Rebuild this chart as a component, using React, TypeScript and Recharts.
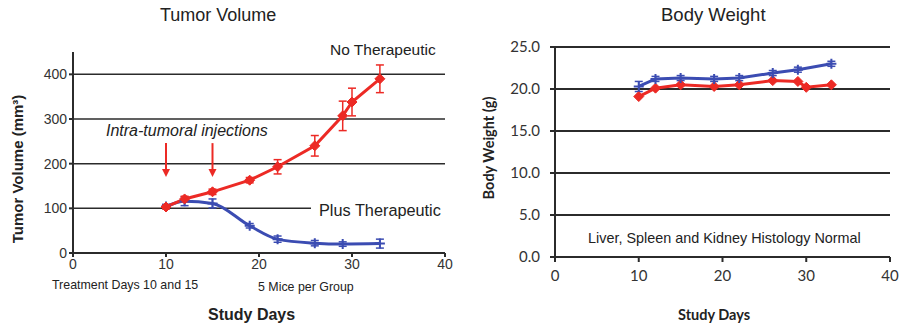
import React from "react";
import {
  LineChart,
  Line,
  XAxis,
  YAxis,
  CartesianGrid,
  ErrorBar,
  ReferenceLine,
} from "recharts";

const RED = "#ec2a25";
const BLUE = "#3b4cb2";
const AXIS = "#2b2b2b";

// Tumor volume (mm³)
const noTxDays = [10, 12, 15, 19, 22, 26, 29, 30, 33];
const noTxVolume = [103, 121, 137, 163, 193, 240, 307, 338, 390];
const noTxVolumeErr = [4, 6, 6, 6, 16, 23, 33, 31, 31];

const plusTxDays = [10, 12, 15, 19, 22, 26, 29, 33];
const plusTxVolume = [104, 116, 111, 61, 31, 22, 20, 21];
const plusTxVolumeErr = [5, 10, 10, 5, 7, 6, 5, 10];

// Body weight (g)
const noTxWeight = [19.1, 20.1, 20.5, 20.3, 20.5, 21.0, 20.9, 20.2, 20.5];
const plusTxWeight = [20.3, 21.2, 21.3, 21.2, 21.3, 21.9, 22.3, 23.0];
const plusTxWeightErr = [0.6, 0.3, 0.3, 0.3, 0.3, 0.3, 0.3, 0.3];

const injectionDays = [10, 15];
const dayTicks = [0, 10, 20, 30, 40];
const volumeTicks = [0, 100, 200, 300, 400];
const weightTicks = [0, 5, 10, 15, 20, 25];

const zip = (days: number[], vals: number[], errs?: number[]) =>
  days.map((d, i) => ({ day: d, v: vals[i], e: errs ? errs[i] : 0 }));

const tumorNo = zip(noTxDays, noTxVolume, noTxVolumeErr);
const tumorPlus = zip(plusTxDays, plusTxVolume, plusTxVolumeErr);
const weightNo = zip(noTxDays, noTxWeight);
const weightPlus = zip(plusTxDays, plusTxWeight, plusTxWeightErr);

const diamondDot = (props: any) => {
  const { cx, cy, index } = props;
  const r = 5;
  return (
    <path
      key={`dm${index}`}
      d={`M${cx},${cy - r}L${cx + r},${cy}L${cx},${cy + r}L${cx - r},${cy}Z`}
      fill={RED}
      stroke={RED}
    />
  );
};

const plusDot = (props: any) => {
  const { cx, cy, index } = props;
  const r = 5;
  return (
    <path
      key={`pl${index}`}
      d={`M${cx - r},${cy}H${cx + r}M${cx},${cy - r}V${cy + r}`}
      stroke={BLUE}
      strokeWidth={2}
    />
  );
};

const Arrow = (props: any) => {
  const { x1, y1, x2, y2 } = props;
  return (
    <g>
      <line x1={x1} y1={y1} x2={x2} y2={y2 - 5} stroke={RED} strokeWidth={2} />
      <path d={`M${x2 - 4},${y2 - 8}L${x2 + 4},${y2 - 8}L${x2},${y2}Z`} fill={RED} />
    </g>
  );
};

const txt = (style: React.CSSProperties): React.CSSProperties => ({
  position: "absolute",
  whiteSpace: "nowrap",
  color: "#222",
  lineHeight: 1,
  ...style,
});

export default function App() {
  const armTick = { fontFamily: "Arial, 'Liberation Sans', sans-serif", fontSize: 14, fill: "#333" };
  const latoTick = { fontFamily: "Lato, sans-serif", fontSize: 15, fill: "#333" };

  return (
    <div
      style={{
        position: "absolute",
        left: 0,
        top: 0,
        width: 900,
        height: 329,
        background: "#fff",
        fontFamily: "Arial, 'Liberation Sans', sans-serif",
        overflow: "hidden",
      }}
    >
      <div style={{ position: "absolute", left: 0, top: 0 }}>
        <LineChart
          width={460}
          height={329}
          margin={{ top: 52, right: 15, bottom: 46, left: 33 }}
        >
          <CartesianGrid
            vertical={false}
            horizontalValues={volumeTicks}
            stroke={AXIS}
            strokeWidth={1.5}
          />
          <XAxis
            type="number"
            dataKey="day"
            domain={[0, 40]}
            ticks={dayTicks}
            height={30}
            tick={armTick}
            tickSize={4}
            tickMargin={2}
            axisLine={{ stroke: AXIS, strokeWidth: 2 }}
            tickLine={{ stroke: AXIS, strokeWidth: 2 }}
            allowDataOverflow
          />
          <YAxis
            type="number"
            domain={[0, 450]}
            ticks={volumeTicks}
            width={40}
            tick={armTick}
            tickSize={4}
            tickMargin={2}
            axisLine={{ stroke: AXIS, strokeWidth: 2 }}
            tickLine={{ stroke: AXIS, strokeWidth: 2 }}
            allowDataOverflow
          />
          {injectionDays.map((d) => (
            <ReferenceLine
              key={`inj${d}`}
              segment={[
                { x: d, y: 246 },
                { x: d, y: 170 },
              ]}
              shape={(p: any) => <Arrow {...p} />}
            />
          ))}
          <Line
            data={tumorPlus}
            dataKey="v"
            type="monotone"
            stroke={BLUE}
            strokeWidth={3}
            dot={plusDot}
            isAnimationActive={false}
          >
            <ErrorBar dataKey="e" width={4} stroke={BLUE} strokeWidth={1.5} direction="y" />
          </Line>
          <Line
            data={tumorNo}
            dataKey="v"
            type="linear"
            stroke={RED}
            strokeWidth={3}
            dot={diamondDot}
            isAnimationActive={false}
          >
            <ErrorBar dataKey="e" width={4} stroke={RED} strokeWidth={1.5} direction="y" />
          </Line>
        </LineChart>
      </div>

      <div style={{ position: "absolute", left: 460, top: 0 }}>
        <LineChart
          width={440}
          height={329}
          margin={{ top: 47, right: 10, bottom: 42, left: 45 }}
        >
          <CartesianGrid
            vertical={false}
            horizontalValues={weightTicks}
            stroke={AXIS}
            strokeWidth={2}
          />
          <XAxis
            type="number"
            dataKey="day"
            domain={[0, 40]}
            ticks={dayTicks}
            height={30}
            tick={latoTick}
            tickSize={5}
            tickMargin={8}
            axisLine={{ stroke: AXIS, strokeWidth: 2 }}
            tickLine={{ stroke: AXIS, strokeWidth: 2 }}
          />
          <YAxis
            type="number"
            domain={[0, 25]}
            ticks={weightTicks}
            tickFormatter={(v: number) => v.toFixed(1)}
            width={50}
            tick={latoTick}
            tickSize={5}
            tickMargin={10}
            axisLine={{ stroke: AXIS, strokeWidth: 2 }}
            tickLine={{ stroke: AXIS, strokeWidth: 2 }}
          />
          <Line
            data={weightNo}
            dataKey="v"
            type="linear"
            stroke={RED}
            strokeWidth={3}
            dot={diamondDot}
            isAnimationActive={false}
          />
          <Line
            data={weightPlus}
            dataKey="v"
            type="linear"
            stroke={BLUE}
            strokeWidth={3}
            dot={plusDot}
            isAnimationActive={false}
          >
            <ErrorBar dataKey="e" width={4} stroke={BLUE} strokeWidth={1.5} direction="y" />
          </Line>
        </LineChart>
      </div>

      {/* left panel text */}
      <div style={txt({ left: 160, top: 6, fontSize: 18 })}>Tumor Volume</div>
      <div style={txt({ left: 330, top: 42, fontSize: 15.5 })}>No Therapeutic</div>
      <div style={txt({ left: 106, top: 123, fontSize: 16, fontStyle: "italic" })}>
        Intra-tumoral injections
      </div>
      <div
        style={txt({
          left: 311,
          top: 202,
          fontSize: 16.3,
          background: "#fff",
          paddingLeft: 8,
          paddingRight: 6,
        })}
      >
        Plus Therapeutic
      </div>
      <div style={txt({ left: 52, top: 279, fontSize: 12.4 })}>Treatment Days 10 and 15</div>
      <div style={txt({ left: 258, top: 281, fontSize: 12.4 })}>5 Mice per Group</div>
      <div style={txt({ left: 208, top: 307, fontSize: 16, fontWeight: "bold" })}>Study Days</div>
      <div
        style={txt({
          left: 17,
          top: 169,
          fontSize: 15,
          fontWeight: "bold",
          transform: "translate(-50%, -50%) rotate(-90deg)",
        })}
      >
        Tumor Volume (mm³)
      </div>

      {/* right panel text */}
      <div style={txt({ left: 661, top: 6, fontSize: 18.5 })}>Body Weight</div>
      <div style={txt({ left: 588, top: 231, fontSize: 14.4 })}>
        Liver, Spleen and Kidney Histology Normal
      </div>
      <div style={txt({ left: 678, top: 308, fontSize: 14.5, fontWeight: "bold", fontFamily: "Lato, sans-serif" })}>
        Study Days
      </div>
      <div
        style={txt({
          left: 489,
          top: 148,
          fontSize: 14.5,
          fontWeight: "bold",
          fontFamily: "Lato, sans-serif",
          transform: "translate(-50%, -50%) rotate(-90deg)",
        })}
      >
        Body Weight (g)
      </div>
    </div>
  );
}
